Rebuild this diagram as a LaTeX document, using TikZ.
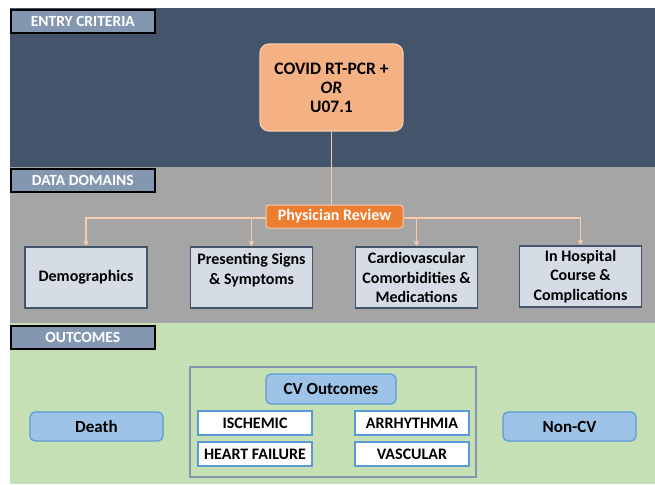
\documentclass[tikz,border=0pt]{standalone}
\usepackage{fontspec}
\setmainfont{Carlito}
\usetikzlibrary{arrows.meta}
\definecolor{darkband}{HTML}{44546A}
\definecolor{grayband}{HTML}{A5A5A5}
\definecolor{greenband}{HTML}{C5E0B4}
\definecolor{labfill}{HTML}{8497B0}
\definecolor{covidfill}{HTML}{F4B183}
\definecolor{covidline}{HTML}{F8CBAD}
\definecolor{physfill}{HTML}{ED7D31}
\definecolor{domfill}{HTML}{D6DCE5}
\definecolor{outfill}{HTML}{9DC3E6}
\definecolor{outline}{HTML}{5B9BD5}
\tikzset{
  x=1pt,y=-1pt,
  bandlabel/.style={draw=black,line width=1.6pt,fill=labfill,text=white,font=\bfseries\fontsize{15.5}{17}\selectfont,anchor=north west,minimum width=144pt,minimum height=23pt,inner sep=0pt},
  covidbox/.style={draw=covidline,line width=1.2pt,fill=covidfill,rounded corners=9pt,minimum width=143pt,minimum height=87pt,align=center,font=\bfseries\fontsize{17.5}{19}\selectfont},
  physbox/.style={draw=covidline,line width=1pt,fill=physfill,rounded corners=3pt,minimum width=137pt,minimum height=23pt,text=white,font=\bfseries\fontsize{16}{18}\selectfont,inner sep=0pt},
  dombox/.style={draw=darkband,line width=1.5pt,fill=domfill,minimum width=122pt,minimum height=61pt,align=center,font=\bfseries\fontsize{16}{19.5}\selectfont,inner sep=0pt},
  outbox/.style={draw=outline,line width=1.2pt,fill=outfill,rounded corners=5pt,minimum width=133pt,minimum height=29pt,font=\bfseries\fontsize{17}{19}\selectfont,inner sep=0pt},
  subbox/.style={draw=outline,line width=1.2pt,fill=white,minimum width=114pt,minimum height=24pt,font=\bfseries\fontsize{16}{18}\selectfont,inner sep=0pt},
  conn/.style={draw=covidline,line width=1.3pt},
  arr/.style={conn,-{Triangle[length=5pt,width=5pt]}}
}
\begin{document}
\begin{tikzpicture}
\useasboundingbox (0,0) rectangle (655,484);
\fill[white] (0,0) rectangle (655,484);
% bands
\fill[darkband] (10,8) rectangle (655,167);
\fill[grayband] (10,167) rectangle (655,323);
\fill[greenband] (10,323) rectangle (655,484);
% band labels
\node[bandlabel] (lab1) at (10,9) {ENTRY CRITERIA};
\node[bandlabel] (lab2) at (10,168) {DATA DOMAINS};
\node[bandlabel] (lab3) at (10,325) {OUTCOMES};
% entry
\node[covidbox] (covid) at (331.5,87.5) {COVID RT-PCR +\\\textit{OR}\\U07.1};
\node[physbox] (phys) at (334.5,216.5) {Physician Review};
\draw[conn] (covid.south) -- (covid.south |- phys.north);
% domains
\node[dombox] (d1) at (86,277.5) {Demographics};
\node[dombox] (d2) at (251.5,277.5) {Presenting Signs\\\& Symptoms\\[-2pt]\phantom{X}};
\node[dombox] (d3) at (416.5,277.5) {Cardiovascular\\Comorbidities \&\\Medications};
\node[dombox] (d4) at (580.5,276.5) {In Hospital\\Course \&\\Complications};
\coordinate (jl) at (266,218);
\coordinate (jr) at (403,218);
\draw[arr] (phys.west |- jl) -| (d1.north);
\draw[arr] (phys.west |- jl) -| (d2.north);
\draw[arr] (phys.east |- jr) -| (d3.north);
\draw[arr] (phys.east |- jr) -| (d4.north);
% outcomes
\node[draw=labfill,line width=1.2pt,minimum width=286pt,minimum height=110pt,inner sep=0pt] (frame) at (333,422) {};
\node[outbox] (death) at (96.5,426.5) {Death};
\node[outbox] (noncv) at (569.5,426.5) {Non-CV};
\node[outbox,minimum width=130pt,minimum height=30pt] (cvout) at (331,389) {CV Outcomes};
\node[subbox] (isch) at (255,423) {ISCHEMIC};
\node[subbox] (arrh) at (412,423) {ARRHYTHMIA};
\node[subbox] (hf) at (255,454) {HEART FAILURE};
\node[subbox] (vasc) at (412,454) {VASCULAR};
\end{tikzpicture}
\end{document}
